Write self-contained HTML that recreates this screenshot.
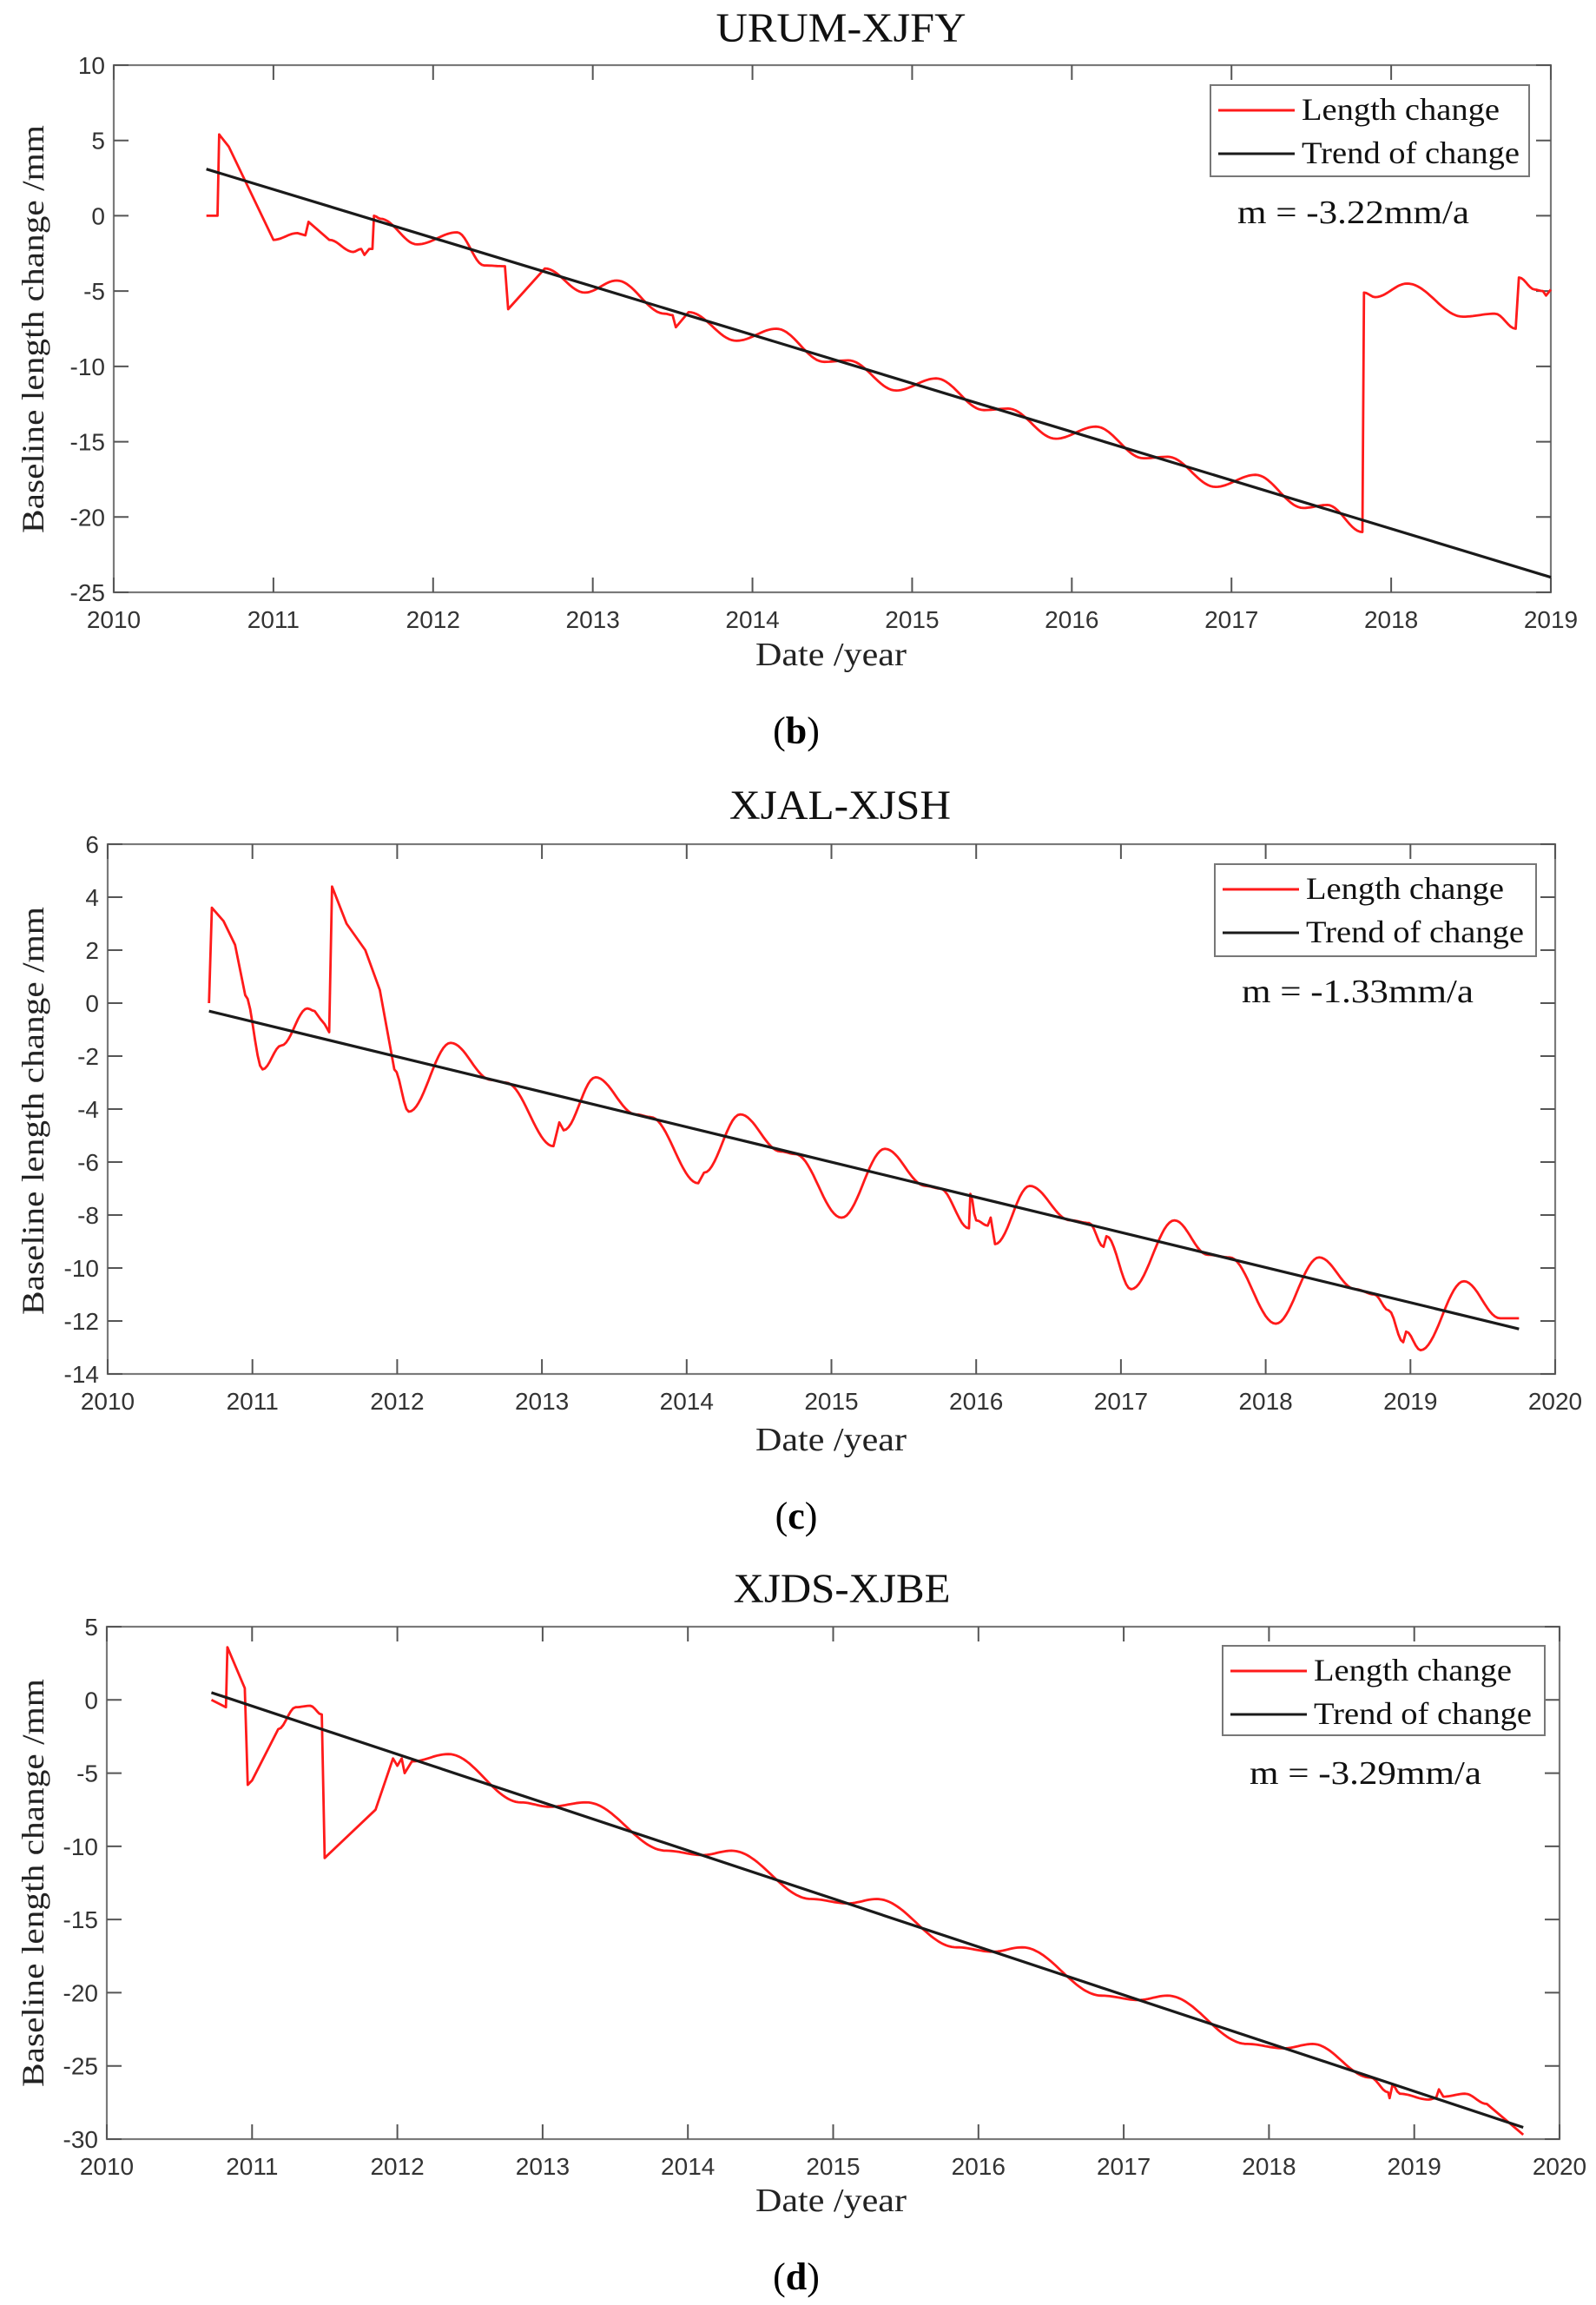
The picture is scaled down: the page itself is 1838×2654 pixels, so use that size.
<!DOCTYPE html>
<html><head><meta charset="utf-8">
<style>
html,body{margin:0;padding:0;background:#fff;}
svg{display:block;}
</style></head>
<body>
<svg id="s" width="1838" height="2654" viewBox="0 0 1838 2654" xmlns="http://www.w3.org/2000/svg">
<rect width="1838" height="2654" fill="#fff"/>
<g id="g"></g>
</svg>
<script>
const NS="http://www.w3.org/2000/svg";
const G=document.getElementById('g');
function el(tag,attrs,text){const e=document.createElementNS(NS,tag);for(const k in attrs)e.setAttribute(k,attrs[k]);if(text!==undefined)e.textContent=text;G.appendChild(e);return e;}

function chart(c){
  const X=t=>c.L+(t-c.x0)/(c.x1-c.x0)*(c.R-c.L);
  const Y=v=>c.T+(c.y1-v)/(c.y1-c.y0)*(c.B-c.T);
  // title
  el('text',{x:(c.L+c.R)/2+10,y:c.titleY,'font-family':'Liberation Serif, serif','font-size':48,'text-anchor':'middle',fill:'#111',textLength:c.titleW,lengthAdjust:'spacingAndGlyphs'},c.title);
  // axes box
  el('rect',{x:c.L,y:c.T,width:c.R-c.L,height:c.B-c.T,fill:'none',stroke:'#7a7a7a','stroke-width':2.2});
  // ticks x
  for(let t=c.x0;t<=c.x1;t++){
    const x=X(t);
    el('line',{x1:x,y1:c.B,x2:x,y2:c.B-17,stroke:'#555','stroke-width':2});
    el('line',{x1:x,y1:c.T,x2:x,y2:c.T+17,stroke:'#555','stroke-width':2});
    el('text',{x:x,y:c.B+41,'font-family':'Liberation Sans, sans-serif','font-size':28,'text-anchor':'middle',fill:'#333'},String(t));
  }
  for(let v=c.y0;v<=c.y1;v+=c.dy){
    const y=Y(v);
    el('line',{x1:c.L,y1:y,x2:c.L+17,y2:y,stroke:'#555','stroke-width':2});
    el('line',{x1:c.R,y1:y,x2:c.R-17,y2:y,stroke:'#555','stroke-width':2});
    el('text',{x:c.L-10,y:y+10,'font-family':'Liberation Sans, sans-serif','font-size':28,'text-anchor':'end',fill:'#333'},String(v));
  }
  // ylabel
  el('text',{x:0,y:0,transform:`translate(50,${c.ylc}) rotate(-90)`,'font-family':'Liberation Serif, serif','font-size':36,'text-anchor':'middle',fill:'#222',textLength:470,lengthAdjust:'spacingAndGlyphs'},'Baseline length change /mm');
  // xlabel
  el('text',{x:957,y:c.xlY,'font-family':'Liberation Serif, serif','font-size':38,'text-anchor':'middle',fill:'#222',textLength:174,lengthAdjust:'spacingAndGlyphs'},'Date /year');
  // panel label
  const p=el('text',{x:917,y:c.pY,'font-family':'Liberation Serif, serif','font-size':44,'text-anchor':'middle',fill:'#000'});
  p.innerHTML='(<tspan font-weight="bold">'+c.p+'</tspan>)';
  // red series
  let d='';const pts=c.pts;
  let first=true;
  for(let i=0;i<pts.length;i++){
    const [t,v,m]=pts[i];
    if(i===0){d+='M'+X(t).toFixed(1)+','+Y(v).toFixed(1);continue;}
    const [t0,v0]=pts[i-1];
    if(m==='l'){d+='L'+X(t).toFixed(1)+','+Y(v).toFixed(1);continue;}
    const n=Math.max(2,Math.ceil((X(t)-X(t0))/3));
    for(let k=1;k<=n;k++){const f=k/n;const w=(1-Math.cos(Math.PI*f))/2;const tt=t0+(t-t0)*f;const vv=v0+(v-v0)*w;d+='L'+X(tt).toFixed(1)+','+Y(vv).toFixed(1);}
  }
  el('path',{d:d,fill:'none',stroke:'#ff1a1a','stroke-width':2.8,'stroke-linejoin':'round'});
  // trend
  el('line',{x1:X(c.tr[0]),y1:Y(c.tr[1]),x2:X(c.tr[2]),y2:Y(c.tr[3]),stroke:'#1a1a1a','stroke-width':3.2});
  // legend
  el('rect',{x:c.lg[0],y:c.lg[1],width:c.lg[2],height:c.lg[3],fill:'#fff',stroke:'#777','stroke-width':2});
  const lx=c.lg[0]+9, e1=c.lg[1]+29, e2=c.lg[1]+79;
  el('line',{x1:lx,y1:e1,x2:lx+88,y2:e1,stroke:'#ff1a1a','stroke-width':3});
  el('line',{x1:lx,y1:e2,x2:lx+88,y2:e2,stroke:'#1a1a1a','stroke-width':3});
  el('text',{x:lx+96,y:e1+11,'font-family':'Liberation Serif, serif','font-size':36,fill:'#111',textLength:228,lengthAdjust:'spacingAndGlyphs'},'Length change');
  el('text',{x:lx+96,y:e2+11,'font-family':'Liberation Serif, serif','font-size':36,fill:'#111',textLength:251,lengthAdjust:'spacingAndGlyphs'},'Trend of change');
  el('text',{x:c.lg[0]+31,y:c.lg[1]+159,'font-family':'Liberation Serif, serif','font-size':38,fill:'#111',textLength:267,lengthAdjust:'spacingAndGlyphs'},c.m);
}

// Chart 1
const p1=[[2010.58,0],[2010.65,0,'l'],[2010.66,5.4,'l'],[2010.72,4.6,'l'],[2011.0,-1.6,'l'],[2011.15,-1.15],[2011.2,-1.3,'l'],[2011.22,-0.4,'l'],[2011.35,-1.6,'l'],[2011.5,-2.4],[2011.55,-2.2],[2011.57,-2.6,'l'],[2011.6,-2.2,'l'],[2011.62,-2.2],[2011.63,0,'l'],[2011.67,-0.2],[2011.9,-1.9],[2012.15,-1.1],[2012.32,-3.3],[2012.45,-3.35],[2012.47,-6.2,'l'],[2012.7,-3.5,'l'],[2012.95,-5.1],[2013.15,-4.3],[2013.45,-6.5],[2013.5,-6.6],[2013.52,-7.4,'l'],[2013.6,-6.4,'l'],[2013.9,-8.3],[2014.15,-7.5],[2014.45,-9.7],[2014.6,-9.6],[2014.9,-11.6],[2015.15,-10.8],[2015.45,-12.9],[2015.6,-12.8],[2015.9,-14.8],[2016.15,-14.0],[2016.45,-16.1],[2016.6,-16.0],[2016.9,-18.0],[2017.15,-17.2],[2017.45,-19.4],[2017.6,-19.2],[2017.82,-21.0],[2017.83,-5.1,'l'],[2017.9,-5.4],[2018.1,-4.5],[2018.45,-6.7],[2018.65,-6.5],[2018.78,-7.5],[2018.8,-4.1,'l'],[2018.9,-4.9],[2018.95,-5.0],[2018.97,-5.3,'l'],[2019.0,-4.9,'l']];
chart({L:131,R:1786,T:75,B:682,x0:2010,x1:2019,y0:-25,y1:10,dy:5,title:'URUM-XJFY',titleY:48,titleW:288,ylc:379,xlY:766,pY:856,p:'b',pts:p1,tr:[2010.58,3.1,2019.0,-24.0],lg:[1394,98,367,105],m:'m = -3.22mm/a'});

// Chart 2
const p2=[[2010.70,0],[2010.72,3.6,'l'],[2010.8,3.1,'l'],[2010.88,2.2,'l'],[2010.95,0.3,'l'],[2011.07,-2.5],[2011.2,-1.6],[2011.38,-0.2],[2011.43,-0.3],[2011.47,-0.6,'l'],[2011.5,-0.8,'l'],[2011.53,-1.1,'l'],[2011.55,4.4,'l'],[2011.65,3.0,'l'],[2011.78,2.0,'l'],[2011.88,0.5,'l'],[2011.98,-2.5,'l'],[2012.08,-4.1],[2012.37,-1.5],[2012.65,-2.9],[2012.75,-3.0],[2013.08,-5.4],[2013.12,-4.5,'l'],[2013.15,-4.8,'l'],[2013.37,-2.8],[2013.65,-4.2],[2013.75,-4.3],[2014.08,-6.8],[2014.12,-6.4,'l'],[2014.37,-4.2],[2014.65,-5.6],[2014.75,-5.7],[2015.07,-8.1],[2015.37,-5.5],[2015.65,-6.9],[2015.75,-7.0],[2015.95,-8.5],[2015.96,-7.2,'l'],[2016.0,-8.2],[2016.08,-8.4],[2016.1,-8.1,'l'],[2016.13,-9.1],[2016.37,-6.9],[2016.65,-8.2],[2016.78,-8.3],[2016.88,-9.2],[2016.9,-8.8,'l'],[2017.07,-10.8],[2017.37,-8.2],[2017.6,-9.5],[2017.75,-9.6],[2018.07,-12.1],[2018.37,-9.6],[2018.62,-10.8],[2018.75,-11.0],[2018.85,-11.6],[2018.95,-12.8],[2018.97,-12.4,'l'],[2019.07,-13.1],[2019.37,-10.5],[2019.62,-11.9],[2019.75,-11.9]];
chart({L:124,R:1791,T:972,B:1582,x0:2010,x1:2020,y0:-14,y1:6,dy:2,title:'XJAL-XJSH',titleY:943,titleW:255,ylc:1279,xlY:1670,pY:1760,p:'c',pts:p2,tr:[2010.7,-0.3,2019.75,-12.3],lg:[1399,995,370,106],m:'m = -1.33mm/a'});

// Chart 3
const p3=[[2010.72,0],[2010.82,-0.5,'l'],[2010.83,3.6,'l'],[2010.95,0.8,'l'],[2010.97,-5.8,'l'],[2011.0,-5.5],[2011.18,-2.0,'l'],[2011.3,-0.5],[2011.4,-0.4],[2011.48,-1.0],[2011.5,-10.8,'l'],[2011.85,-7.5,'l'],[2011.97,-4.0,'l'],[2012.0,-4.5,'l'],[2012.03,-4.0,'l'],[2012.05,-5.0,'l'],[2012.1,-4.2,'l'],[2012.35,-3.7],[2012.85,-7.0],[2013.05,-7.3],[2013.3,-7.0],[2013.85,-10.3],[2014.1,-10.6],[2014.3,-10.3],[2014.85,-13.6],[2015.1,-13.9],[2015.3,-13.6],[2015.85,-16.9],[2016.1,-17.2],[2016.3,-16.9],[2016.85,-20.2],[2017.1,-20.5],[2017.3,-20.2],[2017.85,-23.5],[2018.1,-23.8],[2018.3,-23.5],[2018.7,-25.8],[2018.82,-26.8],[2018.83,-27.2,'l'],[2018.85,-26.3,'l'],[2018.9,-26.9],[2019.1,-27.3],[2019.15,-27.2],[2019.17,-26.6,'l'],[2019.2,-27.1,'l'],[2019.35,-26.9],[2019.5,-27.6],[2019.75,-29.7,'l']];
chart({L:123,R:1796,T:1873,B:2463,x0:2010,x1:2020,y0:-30,y1:5,dy:5,title:'XJDS-XJBE',titleY:1845,titleW:250,ylc:2168,xlY:2546,pY:2636,p:'d',pts:p3,tr:[2010.72,0.5,2019.75,-29.2],lg:[1408,1895,371,103],m:'m = -3.29mm/a'});
</script>
</body></html>
